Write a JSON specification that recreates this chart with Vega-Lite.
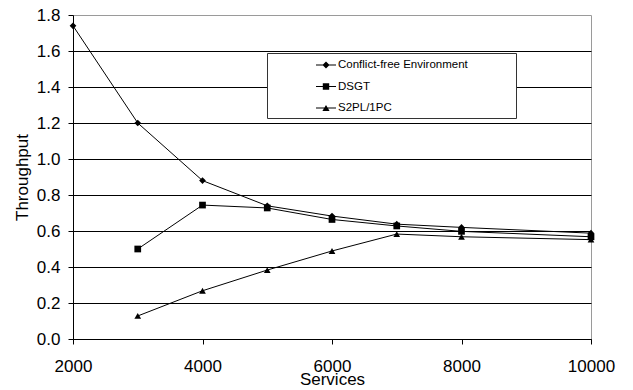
{
  "$schema": "https://vega.github.io/schema/vega-lite/v6.json",
  "width": 518,
  "height": 324,
  "autosize": "none",
  "padding": {"left": 73, "top": 15, "right": 42, "bottom": 51},
  "background": "white",
  "config": {
    "font": "Liberation Sans",
    "view": {"stroke": "#9a9a9a", "strokeWidth": 1}
  },
  "data": {
    "values": [
      {"services": 2000, "throughput": 1.74, "series": "Conflict-free Environment"},
      {"services": 3000, "throughput": 1.20, "series": "Conflict-free Environment"},
      {"services": 4000, "throughput": 0.88, "series": "Conflict-free Environment"},
      {"services": 5000, "throughput": 0.74, "series": "Conflict-free Environment"},
      {"services": 6000, "throughput": 0.683, "series": "Conflict-free Environment"},
      {"services": 7000, "throughput": 0.638, "series": "Conflict-free Environment"},
      {"services": 8000, "throughput": 0.62, "series": "Conflict-free Environment"},
      {"services": 10000, "throughput": 0.588, "series": "Conflict-free Environment"},
      {"services": 3000, "throughput": 0.50, "series": "DSGT"},
      {"services": 4000, "throughput": 0.744, "series": "DSGT"},
      {"services": 5000, "throughput": 0.728, "series": "DSGT"},
      {"services": 6000, "throughput": 0.664, "series": "DSGT"},
      {"services": 7000, "throughput": 0.628, "series": "DSGT"},
      {"services": 8000, "throughput": 0.598, "series": "DSGT"},
      {"services": 10000, "throughput": 0.568, "series": "DSGT"},
      {"services": 3000, "throughput": 0.128, "series": "S2PL/1PC"},
      {"services": 4000, "throughput": 0.268, "series": "S2PL/1PC"},
      {"services": 5000, "throughput": 0.383, "series": "S2PL/1PC"},
      {"services": 6000, "throughput": 0.489, "series": "S2PL/1PC"},
      {"services": 7000, "throughput": 0.583, "series": "S2PL/1PC"},
      {"services": 8000, "throughput": 0.568, "series": "S2PL/1PC"},
      {"services": 10000, "throughput": 0.552, "series": "S2PL/1PC"}
    ]
  },
  "encoding": {
    "x": {
      "field": "services",
      "type": "quantitative",
      "scale": {"domain": [2000, 10000], "nice": false},
      "axis": {
        "values": [2000, 4000, 6000, 8000, 10000],
        "format": "d",
        "title": "Services",
        "grid": false,
        "domainColor": "black",
        "tickColor": "black",
        "tickSize": 5,
        "labelFontSize": 17,
        "labelColor": "black",
        "labelPadding": 14,
        "labelFlush": false,
        "titleFontSize": 17,
        "titleFontWeight": "normal",
        "titleColor": "black",
        "titlePadding": -3
      }
    },
    "y": {
      "field": "throughput",
      "type": "quantitative",
      "scale": {"domain": [0, 1.8], "nice": false},
      "axis": {
        "values": [0, 0.2, 0.4, 0.6, 0.8, 1.0, 1.2, 1.4, 1.6, 1.8],
        "format": ".1f",
        "title": "Throughput",
        "grid": true,
        "gridColor": {"condition": {"test": "datum.value >= 1.79", "value": "transparent"}, "value": "black"},
        "gridOpacity": 1,
        "domainColor": "black",
        "tickColor": "black",
        "tickSize": 5,
        "labelFontSize": 17,
        "labelColor": "black",
        "labelPadding": 8,
        "labelFlush": false,
        "titleFontSize": 17,
        "titleFontWeight": "normal",
        "titleColor": "black",
        "titlePadding": 5
      }
    }
  },
  "layer": [
    {
      "mark": {"type": "line", "color": "black", "strokeWidth": 1},
      "encoding": {"detail": {"field": "series"}}
    },
    {
      "mark": {"type": "point", "filled": true, "color": "black", "opacity": 1, "size": 45},
      "encoding": {
        "shape": {
          "field": "series",
          "type": "nominal",
          "scale": {
            "domain": ["Conflict-free Environment", "DSGT", "S2PL/1PC"],
            "range": ["diamond", "square", "triangle-up"]
          },
          "legend": null
        }
      }
    },
    {
      "transform": [{"filter": "false"}],
      "mark": {"type": "point", "filled": true, "color": "black", "opacity": 1},
      "encoding": {
        "shape": {
          "field": "series",
          "type": "nominal",
          "scale": {
            "domain": ["Conflict-free Environment", "DSGT", "S2PL/1PC"],
            "range": [
              "M-1.25,-0.07H1.25V0.07H-1.25ZM0,-0.44L0.44,0L0,0.44L-0.44,0Z",
              "M-1.25,-0.07H1.25V0.07H-1.25ZM-0.4,-0.4H0.4V0.4H-0.4Z",
              "M-1.25,-0.07H1.25V0.07H-1.25ZM0,-0.38L0.45,0.38L-0.45,0.38Z"
            ]
          },
          "legend": {
            "orient": "none",
            "legendX": 194,
            "legendY": 38,
            "title": " ",
            "titleOrient": "right",
            "titlePadding": 45,
            "titleFontSize": 1,
            "padding": 3,
            "symbolOffset": 47,
            "symbolSize": 256,
            "symbolFillColor": "black",
            "symbolOpacity": 1,
            "labelFontSize": 11.5,
            "labelColor": "black",
            "labelOffset": 3,
            "rowPadding": 5.5,
            "fillColor": "white",
            "strokeColor": "#333333"
          }
        }
      }
    }
  ],
  "resolve": {"scale": {"shape": "independent"}, "legend": {"shape": "independent"}}
}
